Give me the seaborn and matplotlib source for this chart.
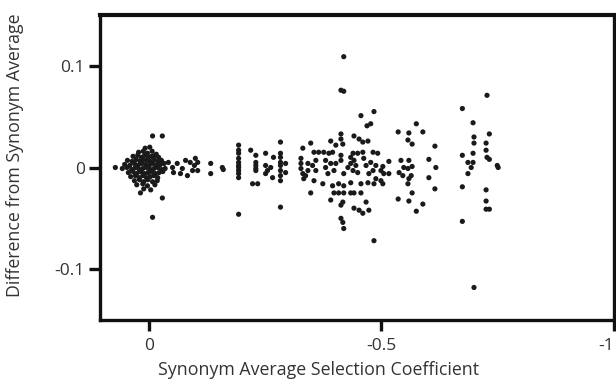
import matplotlib
matplotlib.use("Agg")
import matplotlib.pyplot as plt
import seaborn as sns
import pandas as pd

# ---- data ----
# dense cluster near zero
core_x = [0.008, -0.002,
          0.022, 0.012, 0.003, -0.007, -0.016,
          0.034, 0.024, 0.016, 0.009, 0.001, -0.006, -0.013, -0.021,
          0.046, 0.036, 0.027, 0.019, 0.012, 0.005, -0.003, -0.011, -0.019, -0.027,
          0.052, 0.041, 0.031, 0.023, 0.015, 0.007, -0.001, -0.009, -0.017, -0.025, -0.033,
          0.057, 0.047, 0.037, 0.029, 0.021, 0.013, 0.005, -0.003, -0.011, -0.019, -0.027, -0.035,
          0.044, 0.034, 0.026, 0.018, 0.010, 0.002, -0.006, -0.014, -0.022, -0.030,
          0.039, 0.029, 0.021, 0.013, 0.005, -0.003, -0.011, -0.019,
          0.031, 0.020, 0.011, 0.002, -0.008, -0.018,
          0.026, 0.013, 0.003, -0.013,
          0.011, -0.004]
core_y = [0.019, 0.020,
          0.015, 0.016, 0.014, 0.016, 0.013,
          0.011, 0.012, 0.010, 0.012, 0.010, 0.011, 0.012, 0.010,
          0.007, 0.006, 0.008, 0.006, 0.008, 0.007, 0.006, 0.008, 0.006, 0.007,
          0.003, 0.002, 0.004, 0.002, 0.004, 0.003, 0.002, 0.004, 0.002, 0.003, 0.004,
          -0.001, 0.000, -0.002, 0.000, -0.002, -0.001, 0.000, -0.002, -0.001, 0.000, -0.002, -0.001,
          -0.005, -0.004, -0.006, -0.004, -0.006, -0.005, -0.004, -0.006, -0.005, -0.004,
          -0.009, -0.008, -0.010, -0.008, -0.010, -0.009, -0.008, -0.010,
          -0.013, -0.012, -0.014, -0.012, -0.014, -0.013,
          -0.017, -0.016, -0.018, -0.017,
          -0.021, -0.022]

# tail and outliers around the cluster
near_x = [-0.008, -0.029, 0.072, -0.029, -0.008, 0.018,
          -0.042, -0.051, -0.061, -0.072, -0.079, -0.089, -0.094, -0.083,
          -0.068, -0.098, -0.100, -0.053, -0.105, -0.105]
near_y = [0.031, 0.031, 0.000, -0.030, -0.049, -0.025,
          0.005, 0.000, 0.004, -0.001, 0.007, 0.005, -0.003, -0.008,
          -0.006, 0.002, 0.009, -0.005, 0.005, -0.003]

# coefficients about -0.1 to -0.3
mid_x = [-0.133, -0.133, -0.158, -0.160,
         -0.193, -0.193, -0.193, -0.193, -0.193, -0.193, -0.193, -0.193, -0.193, -0.193, -0.193,
         -0.219, -0.230, -0.230, -0.230, -0.230, -0.230, -0.223, -0.234,
         -0.251, -0.251, -0.255, -0.251, -0.262, -0.266, -0.268,
         -0.283, -0.283, -0.283, -0.283, -0.283, -0.283, -0.283, -0.283, -0.283,
         -0.294, -0.294]
mid_y = [0.004, -0.006, 0.000, -0.002,
         0.022, 0.017, 0.014, 0.009, 0.005, 0.002, 0.000, -0.003, -0.006, -0.010, -0.046,
         0.017, 0.012, 0.005, 0.002, -0.001, -0.003, -0.016, -0.016,
         0.014, 0.002, -0.003, -0.006, 0.000, -0.010, 0.010,
         0.025, 0.014, 0.010, 0.005, 0.002, -0.003, -0.008, -0.013, -0.039,
         0.004, -0.005]

# coefficients about -0.3 to -0.5
wide_x = [-0.469, -0.477, -0.456, -0.484, -0.419, -0.413, -0.419,
          -0.413, -0.413, -0.441, -0.452, -0.460, -0.471, -0.391, -0.417, -0.402, -0.348,
          -0.331, -0.355, -0.365, -0.376, -0.387, -0.395, -0.413, -0.439, -0.449, -0.460, -0.482, -0.492,
          -0.327, -0.327, -0.327, -0.331, -0.333, -0.342, -0.342, -0.337,
          -0.359, -0.359, -0.352, -0.380, -0.380, -0.385, -0.391, -0.402, -0.398,
          -0.413, -0.419, -0.428, -0.434, -0.441, -0.434, -0.445, -0.439, -0.449,
          -0.462, -0.467, -0.477, -0.482, -0.488, -0.473, -0.488, -0.499, -0.499, -0.505,
          -0.355, -0.374, -0.395, -0.408, -0.419, -0.434, -0.456, -0.471, -0.484,
          -0.348, -0.398, -0.408, -0.419, -0.434, -0.441, -0.456,
          -0.391, -0.417, -0.413, -0.467, -0.441, -0.452, -0.460, -0.473,
          -0.413, -0.417, -0.419, -0.484]
wide_y = [0.041, 0.043, 0.051, 0.055, 0.109, 0.076, 0.075,
          0.033, 0.028, 0.031, 0.028, 0.025, 0.026, 0.026, 0.023, 0.022, 0.024,
          0.019, 0.015, 0.015, 0.015, 0.014, 0.015, 0.012, 0.014, 0.014, 0.015, 0.015, 0.014,
          0.009, 0.004, -0.001, -0.006, -0.011, 0.004, -0.003, -0.008,
          0.007, -0.003, 0.002, 0.007, 0.000, -0.006, 0.004, 0.004, -0.003,
          0.007, -0.006, 0.000, 0.010, 0.007, 0.004, 0.002, -0.003, -0.005,
          0.009, 0.002, 0.005, -0.003, 0.002, -0.006, -0.011, -0.003, -0.013, -0.006,
          -0.013, -0.016, -0.018, -0.016, -0.018, -0.015, -0.016, -0.015, -0.016,
          -0.025, -0.025, -0.025, -0.025, -0.025, -0.025, -0.025,
          -0.032, -0.034, -0.037, -0.034, -0.040, -0.042, -0.045, -0.042,
          -0.050, -0.054, -0.060, -0.072]

# coefficients about -0.5 to -0.62
far_x = [-0.575, -0.536, -0.559, -0.589, -0.557, -0.566, -0.615,
         -0.516, -0.542, -0.559, -0.602, -0.617, -0.548, -0.557, -0.566,
         -0.516, -0.538, -0.546, -0.564, -0.559, -0.557, -0.602, -0.615, -0.566,
         -0.536, -0.559, -0.589, -0.575, -0.503, -0.503]
far_y = [0.043, 0.035, 0.034, 0.035, 0.027, 0.023, 0.021,
         0.006, 0.007, 0.007, 0.008, 0.000, 0.000, -0.001, 0.001,
         -0.006, -0.005, -0.008, -0.008, -0.011, -0.016, -0.010, -0.021, -0.025,
         -0.031, -0.033, -0.036, -0.043, 0.001, -0.016]

# coefficients about -0.67 to -0.75
edge_x = [-0.727, -0.674, -0.697, -0.699, -0.699, -0.732, -0.725, -0.725, -0.727, -0.732,
          -0.674, -0.686, -0.697, -0.697, -0.693, -0.686, -0.751, -0.749,
          -0.674, -0.725, -0.725, -0.725, -0.732, -0.674, -0.699]
edge_y = [0.071, 0.058, 0.044, 0.030, 0.024, 0.033, 0.024, 0.017, 0.010, 0.008,
          0.012, 0.005, 0.005, 0.014, 0.000, -0.006, 0.000, 0.002,
          -0.019, -0.022, -0.033, -0.041, -0.041, -0.053, -0.118]

x_ticks = [0, -0.5, -1]
x_tick_labels = ["0", "-0.5", "-1"]
y_ticks = [0.1, 0, -0.1]
y_tick_labels = ["0.1", "0", "-0.1"]

df = pd.DataFrame({
    "sel": core_x + near_x + mid_x + wide_x + far_x + edge_x,
    "diff": core_y + near_y + mid_y + wide_y + far_y + edge_y,
})

# ---- figure ----
sns.set_theme(style="white")
plt.rcParams["font.family"] = ["Open Sans", "DejaVu Sans"]

fig = plt.figure(figsize=(6.16, 3.87), dpi=100)
ax = fig.add_axes([100 / 616, 67 / 387, 514 / 616, 305 / 387])

sns.scatterplot(data=df, x="sel", y="diff", ax=ax, s=14, color="#1a1a1a",
                linewidth=0, edgecolor="none", legend=False)

ax.set_xlim(0.105, -1.0)
ax.set_ylim(-0.15, 0.15)
ax.set_xticks(x_ticks)
ax.set_xticklabels(x_tick_labels)
ax.set_yticks(y_ticks)
ax.set_yticklabels(y_tick_labels)

for side in ["left", "top", "bottom", "right"]:
    ax.spines[side].set_visible(True)
    ax.spines[side].set_color("#111111")
    ax.spines[side].set_linewidth(2.4)
ax.spines["top"].set_linewidth(3.0)

ax.tick_params(axis="both", which="major", direction="out", length=8, width=2.4,
               color="#111111", labelsize=12.5, labelcolor="#333333")
ax.tick_params(axis="x", pad=5, bottom=True)
ax.tick_params(axis="y", pad=3, left=True)
# the last x label sits against the right edge of the picture
ax.get_xticklabels()[-1].set_horizontalalignment("right")

ax.set_xlabel("Synonym Average Selection Coefficient", fontsize=12.8, color="#333333")
ax.set_ylabel("Difference from Synonym Average", fontsize=12.8, color="#333333")
ax.xaxis.set_label_coords(0.426, -0.135)
ax.yaxis.set_label_coords(-0.148, 0.54)

fig.savefig("out.png", dpi=100)
